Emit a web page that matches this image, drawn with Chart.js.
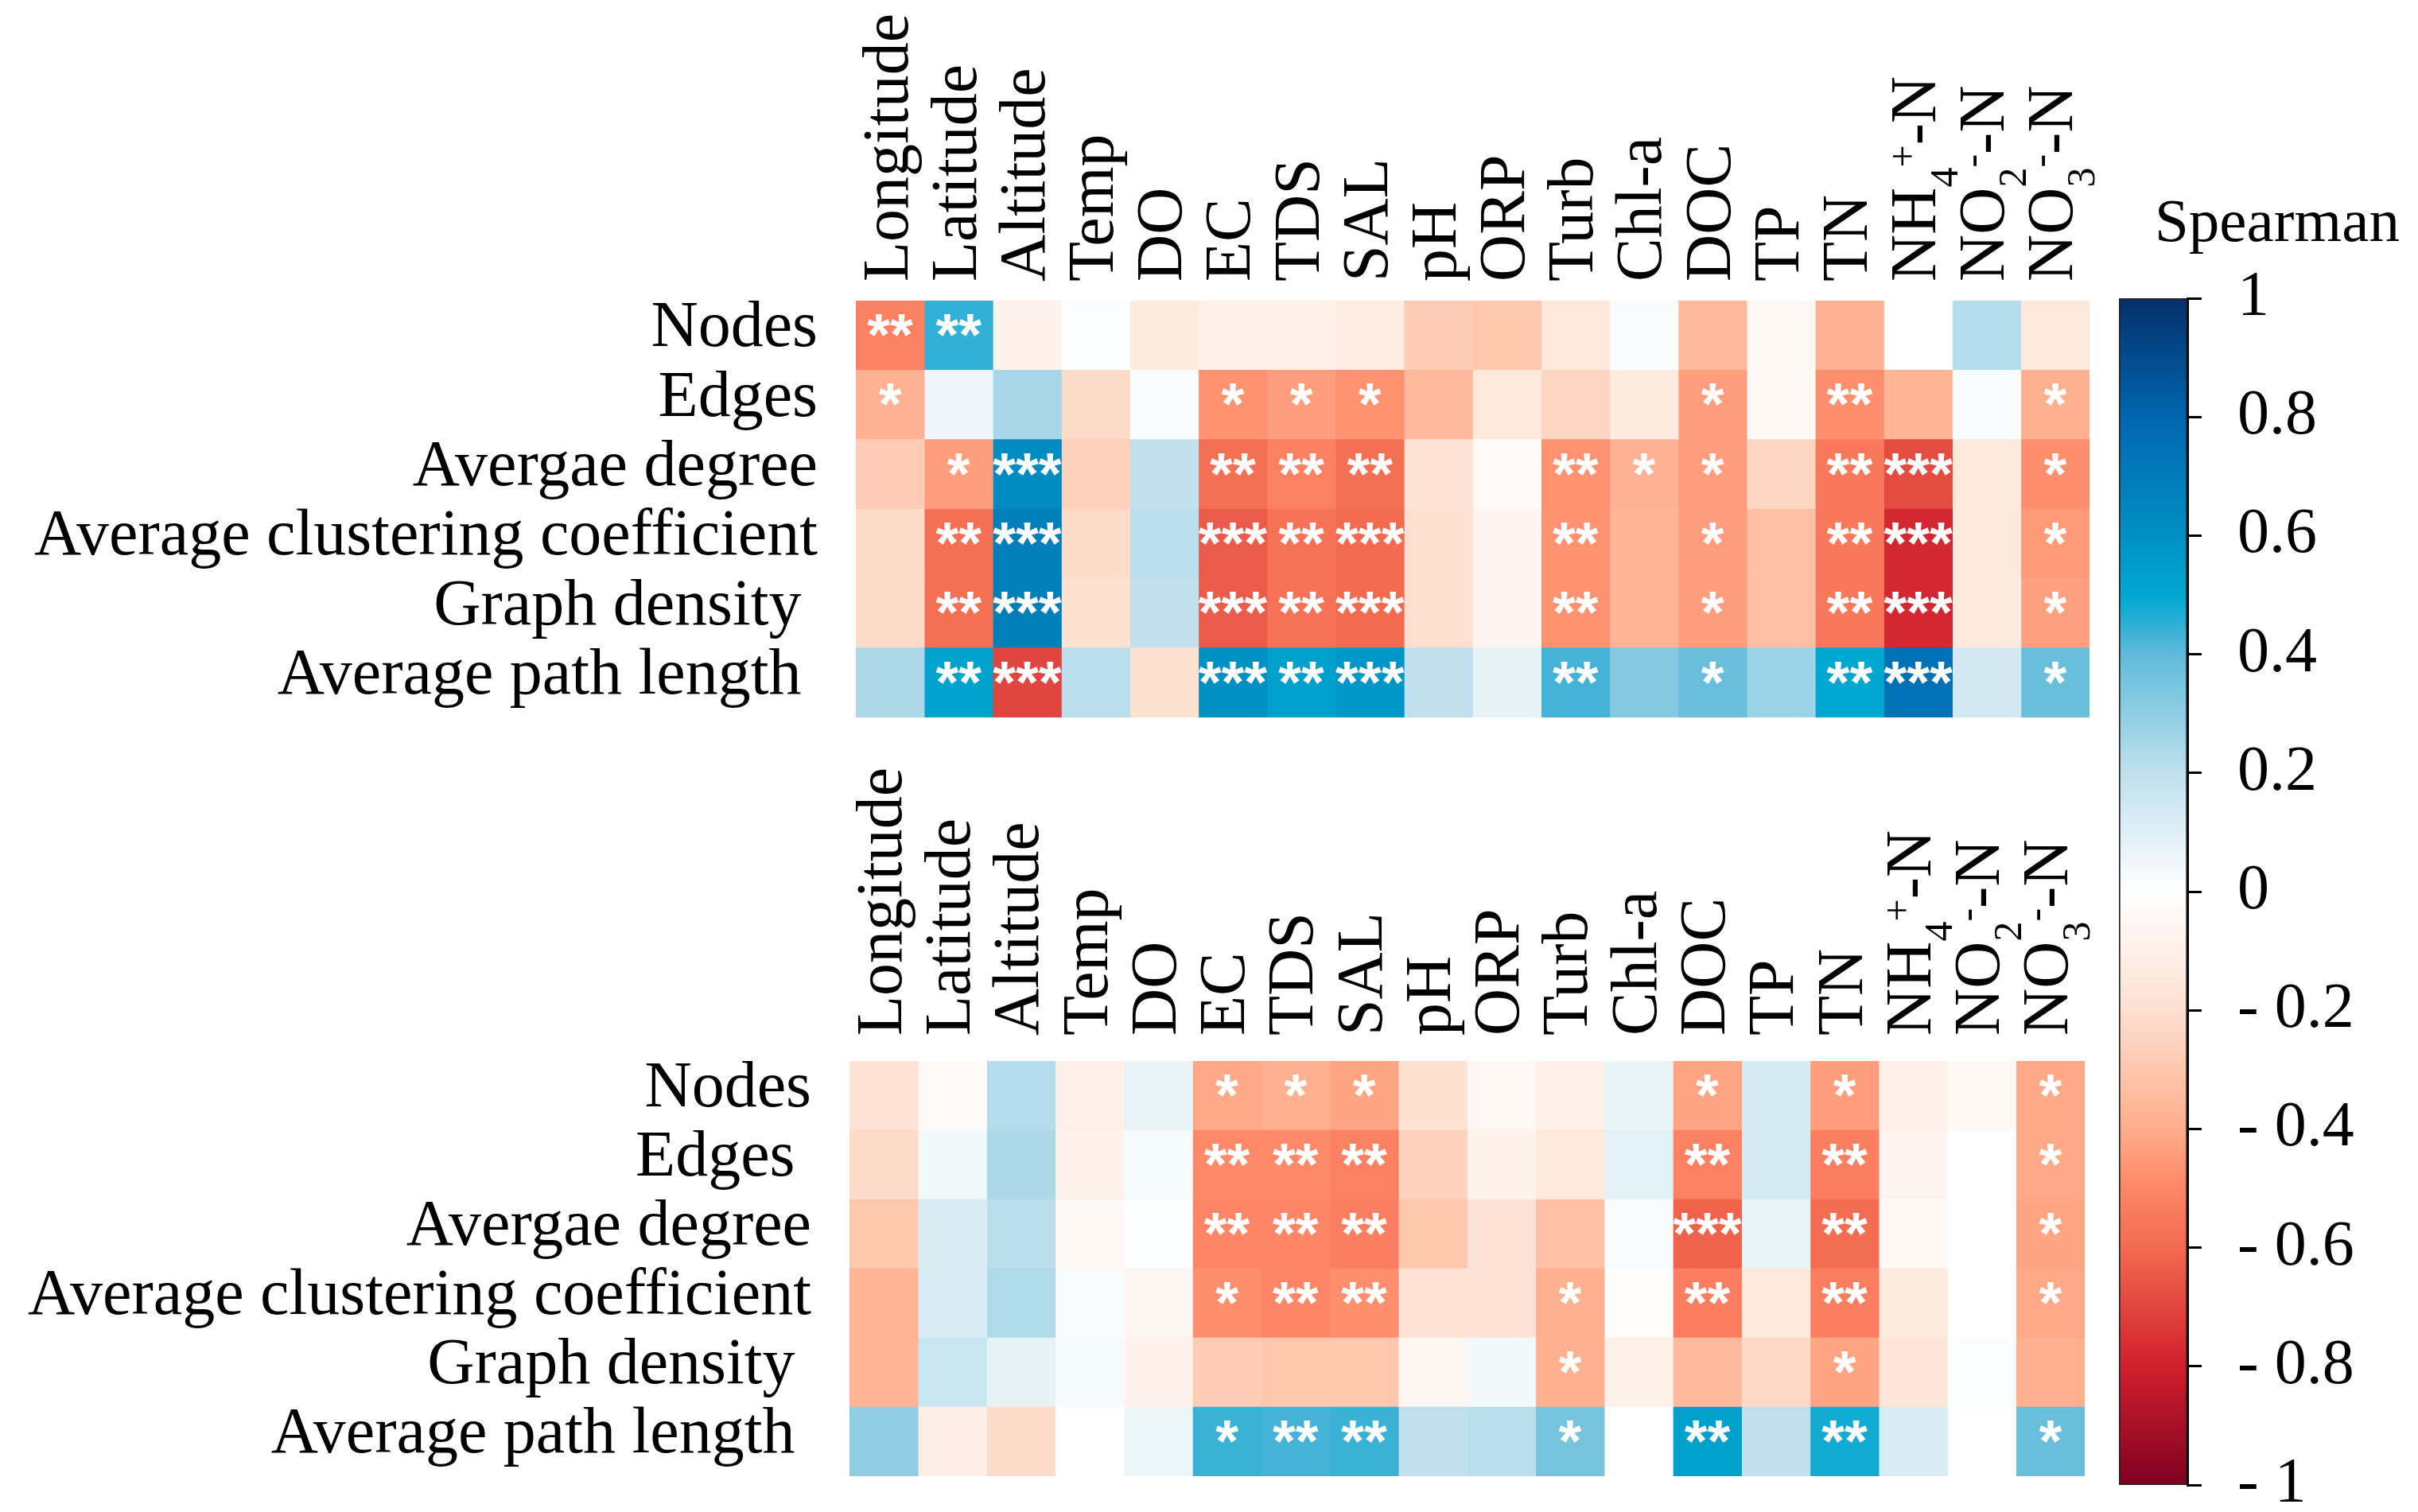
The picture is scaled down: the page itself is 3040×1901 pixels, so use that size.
<!DOCTYPE html>
<html>
<head>
<meta charset="utf-8">
<script src="https://cdn.jsdelivr.net/npm/chart.js@4.4.1/dist/chart.umd.min.js"></script>
<style>
  html, body { margin: 0; padding: 0; background: #fff; overflow: hidden; }
  .box { position: absolute; }
</style>
</head>
<body>
<div class="box" style="left:0;top:0;width:2660px;height:930px"><canvas id="top"></canvas></div>
<div class="box" style="left:0;top:930px;width:2660px;height:971px"><canvas id="bottom"></canvas></div>
<div class="box" style="left:2560px;top:0;width:480px;height:1901px"><canvas id="bar"></canvas></div>
<script>
// column labels, _x = subscript char, ^x = superscript char
var columns = ['Longitude', 'Latitude', 'Altitude', 'Temp', 'DO', 'EC', 'TDS', 'SAL', 'pH', 'ORP',
               'Turb', 'Chl-a', 'DOC', 'TP', 'TN', 'NH_4^+-N', 'NO_2^--N', 'NO_3^--N'];

var rowsTop = ['Nodes', 'Edges', 'Avergae degree', 'Average clustering coefficient',
               'Graph density ', 'Average path length '];
var rowsBottom = ['Nodes', 'Edges ', 'Avergae degree', 'Average clustering coefficient',
                  'Graph density ', 'Average path length '];

// Spearman r, upper panel (one line per row)
var valTop = [
  [-0.52, 0.45, -0.08, 0.01, -0.13, -0.09, -0.09, -0.12, -0.28, -0.30, -0.15, 0.02, -0.35, -0.05, -0.38, 0.00, 0.22, -0.15],
  [-0.38, 0.05, 0.25, -0.22, 0.02, -0.47, -0.44, -0.47, -0.35, -0.15, -0.24, -0.13, -0.44, -0.04, -0.48, -0.37, 0.02, -0.39],
  [-0.28, -0.44, 0.62, -0.26, 0.20, -0.58, -0.52, -0.58, -0.18, -0.03, -0.47, -0.38, -0.44, -0.24, -0.55, -0.68, -0.15, -0.48],
  [-0.22, -0.58, 0.68, -0.22, 0.21, -0.64, -0.57, -0.60, -0.20, -0.07, -0.47, -0.37, -0.44, -0.33, -0.55, -0.78, -0.14, -0.45],
  [-0.22, -0.58, 0.68, -0.19, 0.20, -0.64, -0.57, -0.60, -0.20, -0.07, -0.47, -0.37, -0.44, -0.33, -0.55, -0.78, -0.14, -0.43],
  [0.24, 0.52, -0.70, 0.21, -0.19, 0.60, 0.53, 0.57, 0.20, 0.08, 0.43, 0.32, 0.38, 0.27, 0.50, 0.75, 0.14, 0.38]
];
var starTop = [
  ['**', '**', '', '', '', '', '', '', '', '', '', '', '', '', '', '', '', ''],
  ['*', '', '', '', '', '*', '*', '*', '', '', '', '', '*', '', '**', '', '', '*'],
  ['', '*', '***', '', '', '**', '**', '**', '', '', '**', '*', '*', '', '**', '***', '', '*'],
  ['', '**', '***', '', '', '***', '**', '***', '', '', '**', '', '*', '', '**', '***', '', '*'],
  ['', '**', '***', '', '', '***', '**', '***', '', '', '**', '', '*', '', '**', '***', '', '*'],
  ['', '**', '***', '', '', '***', '**', '***', '', '', '**', '', '*', '', '**', '***', '', '*']
];

// lower panel
var valBottom = [
  [-0.18, -0.03, 0.22, -0.10, 0.07, -0.41, -0.39, -0.42, -0.19, -0.05, -0.10, 0.07, -0.42, 0.13, -0.44, -0.10, -0.04, -0.41],
  [-0.22, 0.04, 0.24, -0.08, 0.03, -0.49, -0.49, -0.52, -0.26, -0.08, -0.15, 0.09, -0.52, 0.13, -0.53, -0.07, 0.00, -0.41],
  [-0.30, 0.12, 0.21, -0.05, 0.01, -0.50, -0.50, -0.53, -0.30, -0.18, -0.33, 0.02, -0.62, 0.07, -0.59, -0.04, 0.00, -0.42],
  [-0.37, 0.12, 0.23, 0.02, -0.06, -0.48, -0.50, -0.48, -0.18, -0.18, -0.39, -0.02, -0.53, -0.15, -0.53, -0.13, 0.00, -0.41],
  [-0.37, 0.17, 0.08, 0.03, -0.08, -0.28, -0.30, -0.30, -0.06, 0.04, -0.39, -0.09, -0.35, -0.23, -0.42, -0.16, 0.01, -0.39],
  [0.30, -0.11, -0.22, 0.00, 0.06, 0.44, 0.43, 0.44, 0.20, 0.21, 0.35, 0.00, 0.53, 0.20, 0.48, 0.12, 0.00, 0.38]
];
var starBottom = [
  ['', '', '', '', '', '*', '*', '*', '', '', '', '', '*', '', '*', '', '', '*'],
  ['', '', '', '', '', '**', '**', '**', '', '', '', '', '**', '', '**', '', '', '*'],
  ['', '', '', '', '', '**', '**', '**', '', '', '', '', '***', '', '**', '', '', '*'],
  ['', '', '', '', '', '*', '**', '**', '', '', '*', '', '**', '', '**', '', '', '*'],
  ['', '', '', '', '', '', '', '', '', '', '*', '', '', '', '*', '', '', ''],
  ['', '', '', '', '', '*', '**', '**', '', '', '*', '', '**', '', '**', '', '', '*']
];

var colorTicks = [-1, -0.8, -0.6, -0.4, -0.2, 0, 0.2, 0.4, 0.6, 0.8, 1];

var SERIF = '"Liberation Serif", "Times New Roman", serif';
var SANS = '"Liberation Sans", Arial, sans-serif';
Chart.defaults.font.family = SERIF;
Chart.defaults.color = '#000';

var cmap = [
  [-1.0, '#7f0020'], [-0.8, '#d01f2d'], [-0.6, '#f26a50'], [-0.5, '#fe8666'], [-0.4, '#ffad8c'],
  [-0.2, '#fde0d0'], [0.0, '#ffffff'], [0.2, '#bfe0ec'], [0.4, '#5fbada'], [0.5, '#00a7d0'],
  [0.6, '#0090c4'], [0.8, '#0066ae'], [1.0, '#04306a']
];

function hexRgb(h) {
    return [parseInt(h.substr(1, 2), 16), parseInt(h.substr(3, 2), 16), parseInt(h.substr(5, 2), 16)];
}

function colorFor(v) {
    if (v <= cmap[0][0]) return cmap[0][1];
    for (var i = 1; i < cmap.length; i++) {
        if (v <= cmap[i][0]) {
            var a = hexRgb(cmap[i - 1][1]), b = hexRgb(cmap[i][1]);
            var t = (v - cmap[i - 1][0]) / (cmap[i][0] - cmap[i - 1][0]);
            var c = [0, 1, 2].map(function(k) { return Math.round(a[k] + (b[k] - a[k]) * t); });
            return 'rgb(' + c.join(',') + ')';
        }
    }
    return cmap[cmap.length - 1][1];
}

function drawLabel(ctx, text, x, y) {
    // rotated label with sub/superscripts
    ctx.save();
    ctx.translate(x, y);
    ctx.rotate(-Math.PI / 2);
    ctx.textAlign = 'left';
    ctx.textBaseline = 'middle';
    ctx.fillStyle = '#000';
    var parts = text.match(/_.|\^.|[^_^]+/g);
    var pos = 0;
    for (var i = 0; i < parts.length; i++) {
        var p = parts[i];
        if (p[0] == '_' || p[0] == '^') {
            ctx.font = '50px ' + SERIF;
            ctx.fillText(p[1], pos, p[0] == '_' ? 36 : -16);
            pos += ctx.measureText(p[1]).width;
        } else {
            ctx.font = '82px ' + SERIF;
            ctx.fillText(p, pos, 0);
            pos += ctx.measureText(p).width;
        }
    }
    ctx.restore();
}

function heatPlugin(stars, gap) {
    return {
        id: 'heatExtras',
        afterDatasetsDraw: function(chart) {
            var ctx = chart.ctx;
            ctx.save();
            ctx.fillStyle = '#fff';
            ctx.font = 'bold 74px ' + SANS;
            ctx.textAlign = 'center';
            ctx.textBaseline = 'middle';
            for (var c = 0; c < chart.data.datasets.length; c++) {
                var bars = chart.getDatasetMeta(c).data;
                for (var r = 0; r < bars.length; r++) {
                    var s = stars[r][c];
                    if (!s) continue;
                    ctx.fillText(s, (bars[r].x + bars[r].base) / 2, bars[r].y + 4);
                }
            }
            ctx.restore();
            var xs = chart.scales.x;
            for (var i = 0; i < columns.length; i++) {
                drawLabel(ctx, columns[i], xs.getPixelForValue(i + 0.5), chart.chartArea.top - gap);
            }
        }
    };
}

function newHeatmap(id, rows, values, stars, pad, axisWidth, gap) {
    var datasets = [];
    for (var c = 0; c < columns.length; c++) {
        var colors = [];
        var ones = [];
        for (var r = 0; r < rows.length; r++) {
            colors.push(colorFor(values[r][c]));
            ones.push(1);
        }
        datasets.push({
            label: columns[c],
            data: ones,
            backgroundColor: colors,
            borderWidth: 0,
            barPercentage: 1,
            categoryPercentage: 1
        });
    }
    return new Chart(document.getElementById(id), {
        type: 'bar',
        data: { labels: rows, datasets: datasets },
        options: {
            indexAxis: 'y',
            responsive: true,
            maintainAspectRatio: false,
            animation: false,
            layout: { padding: pad },
            plugins: { legend: { display: false }, tooltip: { enabled: false } },
            scales: {
                x: { stacked: true, min: 0, max: columns.length, display: false },
                y: {
                    stacked: true,
                    grid: { display: false, drawTicks: false },
                    border: { display: false },
                    ticks: { font: { size: 82 }, color: '#000', padding: 48, labelOffset: -8, autoSkip: false },
                    afterFit: function(scale) {
                        scale.width = axisWidth;
                        scale.paddingTop = 0;
                        scale.paddingBottom = 0;
                    }
                }
            }
        },
        plugins: [heatPlugin(stars, gap)]
    });
}

newHeatmap('top', rowsTop, valTop, starTop, { left: 0, right: 33, top: 378, bottom: 28 }, 1076, 24);
newHeatmap('bottom', rowsBottom, valBottom, starBottom, { left: 0, right: 39, top: 404, bottom: 45 }, 1068, 32);

// colour bar
var titlePlugin = {
    id: 'cbTitle',
    afterDraw: function(chart) {
        var ctx = chart.ctx;
        ctx.save();
        ctx.font = '77px ' + SERIF;
        ctx.fillStyle = '#000';
        ctx.textAlign = 'left';
        ctx.textBaseline = 'alphabetic';
        ctx.fillText('Spearman', chart.chartArea.left + 45, chart.chartArea.top - 72);
        ctx.restore();
    }
};

new Chart(document.getElementById('bar'), {
    type: 'bar',
    data: {
        labels: ['r'],
        datasets: [{
            data: [[colorTicks[0], colorTicks[colorTicks.length - 1]]],
            backgroundColor: function(c) {
                var chart = c.chart;
                if (!chart.chartArea) return '#fff';
                var y = chart.scales.y;
                var g = chart.ctx.createLinearGradient(0, y.getPixelForValue(-1), 0, y.getPixelForValue(1));
                for (var i = 0; i <= 40; i++) {
                    g.addColorStop(i / 40, colorFor(-1 + i * 0.05));
                }
                return g;
            },
            borderColor: '#222',
            borderWidth: 2,
            borderSkipped: false,
            barPercentage: 1,
            categoryPercentage: 1
        }]
    },
    options: {
        responsive: true,
        maintainAspectRatio: false,
        animation: false,
        layout: { padding: { left: 104, right: 0, top: 375, bottom: 34 } },
        plugins: { legend: { display: false }, tooltip: { enabled: false } },
        scales: {
            x: { display: false },
            y: {
                position: 'right',
                min: -1,
                max: 1,
                afterBuildTicks: function(scale) {
                    scale.ticks = colorTicks.map(function(v) { return { value: v }; });
                },
                grid: { drawOnChartArea: false, drawTicks: true, tickLength: 18, color: '#000', lineWidth: 3 },
                border: { display: true, color: '#000', width: 3 },
                ticks: {
                    font: { size: 80 },
                    color: '#000',
                    padding: 45,
                    callback: function(v) {
                        v = Math.round(v * 10) / 10;
                        if (v < 0) return '- ' + Math.abs(v);
                        return String(v);
                    }
                },
                afterFit: function(scale) {
                    scale.width = 290;
                    scale.paddingTop = 0;
                    scale.paddingBottom = 0;
                }
            }
        }
    },
    plugins: [titlePlugin]
});
</script>
</body>
</html>
